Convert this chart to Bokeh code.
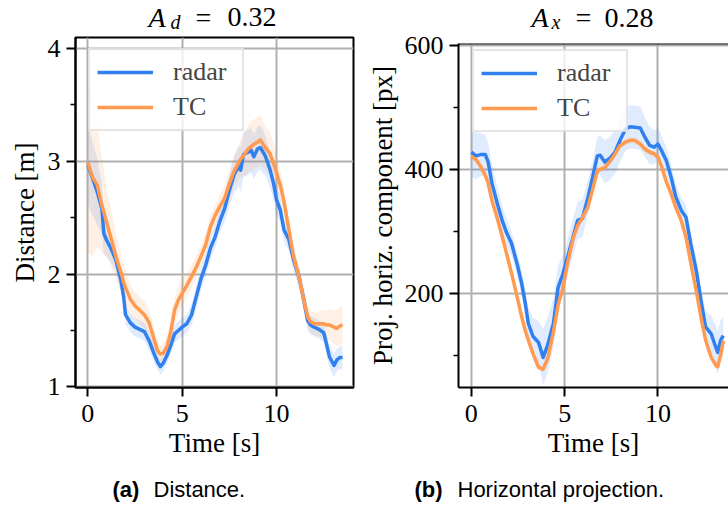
from bokeh.plotting import figure
from bokeh.layouts import row, column
from bokeh.models import Range1d, FixedTicker, Label, Legend, LegendItem, Span
from bokeh.embed import file_html
from bokeh.resources import INLINE

# ---------------- data: (a) distance ----------------
t_dist = [0.0, 0.25, 0.5, 0.75, 0.85, 1.0, 1.25, 1.5, 1.75, 1.9, 2.0, 2.25, 2.5, 2.75, 3.0,
          3.25, 3.5, 3.7, 3.85, 4.0, 4.2, 4.4, 4.6, 4.8, 5.0, 5.25, 5.5, 5.75, 6.0, 6.25,
          6.5, 6.75, 7.0, 7.25, 7.5, 7.75, 8.0, 8.1, 8.25, 8.5, 8.65, 8.8, 9.0, 9.15, 9.4,
          9.65, 9.85, 10.0, 10.2, 10.4, 10.65, 10.9, 11.2, 11.45, 11.65, 11.8, 12.0, 12.25,
          12.5, 12.65, 12.8, 13.05, 13.2, 13.35, 13.5]
dist_radar = [2.97, 2.85, 2.73, 2.58, 2.36, 2.30, 2.22, 2.12, 1.95, 1.80, 1.64, 1.57, 1.53, 1.51, 1.49,
              1.41, 1.30, 1.22, 1.18, 1.21, 1.28, 1.37, 1.47, 1.50, 1.53, 1.56, 1.64, 1.80, 1.96, 2.08,
              2.23, 2.33, 2.47, 2.58, 2.74, 2.88, 2.96, 2.92, 3.06, 3.08, 3.10, 3.04, 3.11, 3.12, 3.05,
              2.93, 2.80, 2.66, 2.57, 2.39, 2.31, 2.13, 1.97, 1.77, 1.59, 1.55, 1.53, 1.51,
              1.48, 1.38, 1.27, 1.19, 1.24, 1.26, 1.26]
dist_tc = [2.99, 2.86, 2.79, 2.61, 2.55, 2.46, 2.31, 2.15, 2.02, 1.93, 1.88, 1.78, 1.72, 1.68, 1.64,
           1.57, 1.43, 1.32, 1.29, 1.30, 1.36, 1.49, 1.68, 1.77, 1.83, 1.90, 1.98, 2.06, 2.16, 2.26,
           2.42, 2.52, 2.60, 2.67, 2.80, 2.91, 2.99, 3.02, 3.05, 3.11, 3.13, 3.15, 3.17, 3.19, 3.12,
           3.07, 2.98, 2.90, 2.79, 2.64, 2.40, 2.16, 1.97, 1.77, 1.62, 1.58, 1.56, 1.56,
           1.56, 1.55, 1.55, 1.53, 1.52, 1.54, 1.55]
dist_radar_sd = [0.35, 0.33, 0.3, 0.22, 0.18, 0.15, 0.12, 0.1, 0.09, 0.08, 0.08, 0.08, 0.08, 0.08, 0.08,
                 0.08, 0.08, 0.07, 0.07, 0.07, 0.07, 0.08, 0.08, 0.08, 0.08, 0.08, 0.09, 0.1, 0.1, 0.1,
                 0.1, 0.1, 0.1, 0.12, 0.14, 0.16, 0.18, 0.2, 0.2, 0.2, 0.2, 0.2, 0.2, 0.2, 0.18,
                 0.16, 0.14, 0.12, 0.12, 0.1, 0.1, 0.1, 0.1, 0.1, 0.09, 0.08, 0.08, 0.08,
                 0.08, 0.09, 0.1, 0.1, 0.1, 0.1, 0.1]
dist_tc_sd = [0.8, 0.7, 0.55, 0.42, 0.38, 0.3, 0.25, 0.2, 0.17, 0.15, 0.15, 0.13, 0.12, 0.12, 0.12,
              0.11, 0.1, 0.09, 0.08, 0.08, 0.1, 0.12, 0.12, 0.12, 0.12, 0.11, 0.1, 0.1, 0.1, 0.1,
              0.1, 0.1, 0.1, 0.11, 0.12, 0.14, 0.15, 0.17, 0.19, 0.21, 0.22, 0.22, 0.22, 0.22, 0.2,
              0.19, 0.17, 0.15, 0.13, 0.11, 0.1, 0.09, 0.08, 0.08, 0.09, 0.1, 0.1, 0.11,
              0.12, 0.13, 0.14, 0.15, 0.16, 0.17, 0.17]

# ---------------- data: (b) horizontal projection ----------------
t_proj = [0.0, 0.25, 0.5, 0.75, 0.9, 1.1, 1.4, 1.65, 1.9, 2.15, 2.45, 2.7, 2.9, 3.05, 3.3, 3.6, 3.85,
          4.1, 4.4, 4.65, 4.9, 5.15, 5.45, 5.7, 5.95, 6.25, 6.5, 6.75, 6.9, 7.15, 7.45, 7.7, 7.95,
          8.25, 8.5, 8.75, 9.05, 9.3, 9.55, 9.8, 10.0, 10.2, 10.45, 10.7, 10.95, 11.25, 11.5,
          11.75, 12.05, 12.3, 12.55, 12.85, 13.1, 13.2, 13.35, 13.5]
proj_radar = [428, 422, 424, 424, 412, 378, 344, 318, 297, 281, 248, 216, 182, 152, 131, 121, 97,
              118, 152, 210, 231, 258, 291, 318, 321, 355, 388, 422, 423, 412, 419, 428, 446,
              465, 469, 468, 467, 452, 439, 436, 441, 430, 414, 388, 356, 334, 323,
              281, 237, 189, 146, 135, 113, 105, 124, 132]
proj_tc = [421, 416, 405, 390, 378, 350, 320, 292, 263, 233, 195, 162, 139, 125, 103, 81, 78,
           96, 138, 182, 208, 248, 289, 310, 322, 340, 368, 398, 400, 403, 414, 425, 438,
           444, 447, 447, 441, 433, 428, 425, 420, 404, 380, 361, 339, 317, 291,
           250, 204, 162, 125, 97, 84, 82, 100, 124]
proj_radar_sd = [40, 38, 35, 32, 30, 30, 27, 25, 22, 20, 20, 20, 22, 25, 30, 35, 45,
                 45, 40, 35, 30, 30, 30, 30, 30, 28, 26, 30, 32, 35, 35, 35, 35,
                 35, 35, 35, 35, 32, 30, 28, 25, 24, 22, 20, 20, 20, 20,
                 20, 20, 22, 25, 30, 35, 35, 32, 30]
proj_tc_sd = [5] * len(t_proj)

# ---------------- styling ----------------
SERIF = "Liberation Serif"
SANS = "Liberation Sans"
BLUE = "#3080f0"
ORANGE = "#ff9a50"
GRID = "#b0b0b0"
W = 364


def band(y, sd, sign):
    return [a + sign * s for a, s in zip(y, sd)]


def text_fig(height):
    f = figure(width=W, height=height, output_backend="svg", toolbar_location=None, title=None,
               x_range=Range1d(0, 1), y_range=Range1d(0, 1), min_border=0, frame_align=False,
               x_axis_location=None, y_axis_location=None,
               background_fill_color="white", border_fill_color="white")
    f.outline_line_color = None
    for g in f.grid:
        g.visible = False
    return f


def make_fig(b_left, b_right, b_top, xr, yr, yticks, yminor, ylabel, ylabel_standoff, outline):
    p = figure(width=W, height=443, output_backend="svg", toolbar_location=None, title=None,
               x_range=Range1d(*xr), y_range=Range1d(*yr), frame_align=False,
               min_border_left=b_left, min_border_right=b_right,
               min_border_top=b_top, min_border_bottom=85,
               background_fill_color="white", border_fill_color="white")
    p.outline_line_color = "black" if outline else None
    p.outline_line_width = 2
    p.xaxis.ticker = FixedTicker(ticks=[0, 5, 10], minor_ticks=[])
    p.yaxis.ticker = FixedTicker(ticks=yticks, minor_ticks=yminor)
    for ax in (p.xaxis[0], p.yaxis[0]):
        ax.axis_line_color = "black"
        ax.axis_line_width = 2
        ax.major_tick_line_color = "black"
        ax.major_tick_line_width = 2
        ax.major_tick_in = 0
        ax.major_tick_out = 9
        ax.minor_tick_line_color = "black"
        ax.minor_tick_line_width = 1.5
        ax.minor_tick_in = 0
        ax.minor_tick_out = 5
        ax.major_label_text_font = SERIF
        ax.major_label_text_font_size = "26px"
        ax.major_label_text_color = "black"
        ax.axis_label_text_font = SERIF
        ax.axis_label_text_font_size = "27px"
        ax.axis_label_text_font_style = "normal"
        ax.axis_label_text_color = "black"
    p.xaxis.minor_tick_out = 0
    p.xaxis.major_label_standoff = 8
    p.yaxis.major_label_standoff = 6
    p.xaxis.axis_label = "Time [s]"
    p.xaxis.axis_label_standoff = 3
    p.yaxis.axis_label = ylabel
    p.yaxis.axis_label_standoff = ylabel_standoff
    p.xgrid.grid_line_color = GRID
    p.ygrid.grid_line_color = GRID
    p.xgrid.grid_line_width = 2
    p.ygrid.grid_line_width = 2
    return p


def add_series(p, t, radar, radar_sd, tc, tc_sd):
    p.varea(x=t, y1=band(radar, radar_sd, -1), y2=band(radar, radar_sd, 1),
            fill_color=BLUE, fill_alpha=0.15)
    p.varea(x=t, y1=band(tc, tc_sd, -1), y2=band(tc, tc_sd, 1),
            fill_color=ORANGE, fill_alpha=0.15)
    rb = p.line(t, radar, line_color=BLUE, line_width=3.5, line_join="round")
    ro = p.line(t, tc, line_color=ORANGE, line_width=3.5, line_join="round")
    return rb, ro


def add_legend(p, rb, ro, loc):
    lg = Legend(items=[LegendItem(label="radar", renderers=[rb]),
                       LegendItem(label="TC", renderers=[ro])],
                location=loc, margin=0, padding=7, spacing=5,
                glyph_width=56, glyph_height=28, label_height=28, label_width=62,
                label_standoff=20,
                label_text_font=SERIF, label_text_font_size="26px",
                border_line_color="#cccccc", border_line_width=2,
                background_fill_color="white", background_fill_alpha=0.8)
    p.add_layout(lg)


def add_title(f, xs, ys, sub, val):
    kw = dict(x_units="screen", y_units="screen", text_font=SERIF, text_color="black",
              text_baseline="middle", text_align="left")
    f.add_layout(Label(x=xs[0], y=ys[0], text="A", text_font_size="28px", text_font_style="italic", **kw))
    f.add_layout(Label(x=xs[1], y=ys[1], text=sub, text_font_size="20px", text_font_style="italic", **kw))
    f.add_layout(Label(x=xs[2], y=ys[0], text="=", text_font_size="28px", **kw))
    f.add_layout(Label(x=xs[3], y=ys[0], text=val, text_font_size="28px", **kw))


def add_caption(f, xs, bold, rest):
    kw = dict(x_units="screen", y_units="screen", y=20, text_font=SANS, text_color="black",
              text_font_size="22px", text_baseline="middle", text_align="left")
    f.add_layout(Label(x=xs[0], text=bold, text_font_style="bold", **kw))
    f.add_layout(Label(x=xs[1], text=rest, **kw))


# titles
t1 = text_fig(33)
add_title(t1, (148, 170, 195, 227), (16.5, 11.3), "d", "0.32")
t2 = text_fig(33)
add_title(t2, (167, 187, 211, 240), (16, 11.2), "x", "0.28")

# (a) distance
p1 = make_fig(75, 11, 8, (-0.65, 14.08), (0.995, 4.097), [1, 2, 3, 4], [1.5, 2.5, 3.5],
              "Distance [m]", 5, True)
rb1, ro1 = add_series(p1, t_dist, dist_radar, dist_radar_sd, dist_tc, dist_tc_sd)
add_legend(p1, rb1, ro1, (13, 256))

# (b) horizontal projection
p2 = make_fig(91, 0, 14, (-0.689, 13.778), (48.4, 603.2), [200, 400, 600], [100, 300, 500],
              "Proj. horiz. component [px]", 4, False)
p2.add_layout(Span(location=603.2, dimension="width", line_color="black", line_width=2))
rb2, ro2 = add_series(p2, t_proj, proj_radar, proj_radar_sd, proj_tc, proj_tc_sd)
add_legend(p2, rb2, ro2, (14, 255))

# captions
c1 = text_fig(37)
add_caption(c1, (112, 153), "(a)", "Distance.")
c2 = text_fig(37)
add_caption(c2, (50, 93), "(b)", "Horizontal projection.")

layout = column(row(t1, t2), row(p1, p2, margin=(-4, 0, 0, 0)), row(c1, c2))
open("out.html", "w").write(file_html(layout, INLINE))
